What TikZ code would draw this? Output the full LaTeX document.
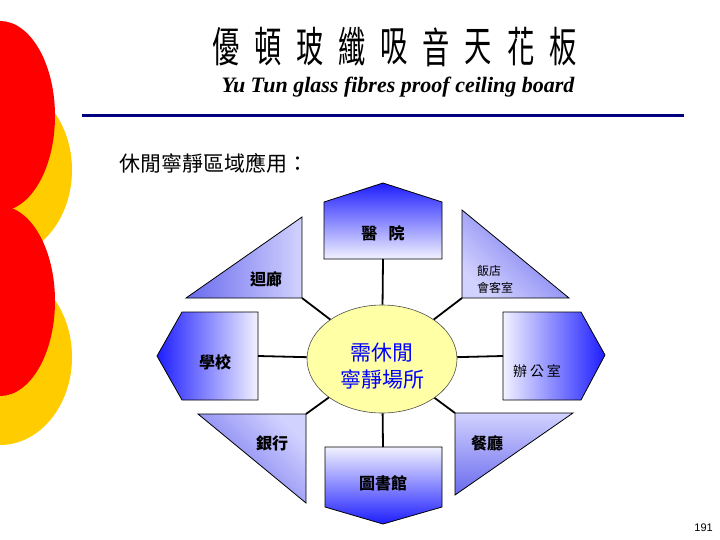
\documentclass[tikz,border=0pt]{standalone}
\usepackage{fontspec}
\setmainfont{Liberation Serif}
\newfontfamily\cjk{Noto Sans CJK TC}
\newfontfamily\numf{Liberation Sans}
\usetikzlibrary{shapes.geometric}
\definecolor{decored}{RGB}{255,0,0}
\definecolor{decoyellow}{RGB}{255,204,0}
\definecolor{navyline}{RGB}{0,0,128}
\definecolor{boxblue}{RGB}{30,30,255}
\definecolor{boxlight}{RGB}{242,242,255}
\definecolor{tridark}{RGB}{105,105,238}
\definecolor{trilight}{RGB}{210,210,255}
\definecolor{ellfill}{RGB}{255,255,165}
\definecolor{centertext}{RGB}{0,0,255}
\tikzset{
  shapeedge/.style={draw=black, line width=0.8pt},
  link/.style={draw=black, line width=1.8pt},
  lbl/.style={font=\cjk\bfseries\fontsize{16}{18}\selectfont, inner sep=0pt},
  lblsmall/.style={font=\cjk\fontsize{12}{17}\selectfont, inner sep=0pt},
  titlechar/.style={font=\cjk\fontsize{42}{44}\selectfont, xscale=0.65, inner sep=0pt},
  trishade/.style={shapeedge, top color=tridark, bottom color=trilight},
}
\begin{document}
\begin{tikzpicture}[x=1pt,y=-1pt]
\useasboundingbox (0,0) rectangle (720,540);
\fill[white] (0,0) rectangle (720,540);
% left decoration
\begin{scope}
\clip (0,0) rectangle (720,540);
\fill[decoyellow] (0,170) ellipse [x radius=72, y radius=88];
\fill[decoyellow] (0,357) ellipse [x radius=72, y radius=88];
\fill[decored] (0,116) ellipse [x radius=55, y radius=95];
\fill[decored] (0,301) ellipse [x radius=55, y radius=95];
\end{scope}
% title
\foreach \ch [count=\i from 0] in {優,頓,玻,纖,吸,音,天,花,板}
  \node[titlechar] (t\i) at (226+42.1*\i, 47) {\ch};
\node[font=\bfseries\itshape\fontsize{22}{24}\selectfont, inner sep=0pt] (sub) at (398,87) {Yu Tun glass fibres proof ceiling board};
\coordinate (lineL) at (82,116);
\coordinate (lineR) at (684,116);
\draw[navyline, line width=3pt] (lineL) -- (lineR);
\node[anchor=west, font=\cjk\fontsize{21}{23}\selectfont, inner sep=0pt] (sect) at (119,163) {休閒寧靜區域應用：};
% hub
\node[ellipse, draw=black!70, line width=0.6pt, fill=ellfill, minimum width=150pt, minimum height=108pt, inner sep=0pt] (hub) at (382,359) {};
\node[font=\cjk\fontsize{21}{27}\selectfont, text=centertext, align=center, inner sep=0pt] (hubtext) at (382,366) {需休閒\\寧靜場所};
% connection points
\coordinate (hospB) at (383,259);
\coordinate (libT) at (383,447);
\coordinate (schR) at (258,356);
\coordinate (offL) at (503,356);
\coordinate (corrC) at (302,298);
\coordinate (hotC) at (462,298);
\coordinate (bankC) at (306,414);
\coordinate (restC) at (455,413);
% boxes
\shade[shapeedge, top color=boxblue, bottom color=boxlight] (324,259) -- (324,202) -- (383,183) -- (442,202) -- (442,259) -- cycle;
\shade[shapeedge, top color=boxlight, bottom color=boxblue] (325,447) -- (442,447) -- (442,507) -- (383,524) -- (325,507) -- cycle;
\shade[shapeedge, left color=boxblue, right color=boxlight] (258,312) -- (182,312) -- (157,356) -- (182,400) -- (258,400) -- cycle;
\shade[shapeedge, left color=boxlight, right color=boxblue] (503,312) -- (581,312) -- (605,355) -- (581,400) -- (503,400) -- cycle;
% triangles
\shade[trishade, shading angle=90] (302,217) -- (302,298) -- (186,298) -- cycle;
\shade[trishade, shading angle=-45] (462,210) -- (462,298) -- (569,298) -- cycle;
\shade[trishade, shading angle=135] (198,414) -- (306,414) -- (306,503) -- cycle;
\shade[trishade, shading angle=180] (455,413) -- (573,413) -- (455,495) -- cycle;
% connectors
\draw[link] (hospB) -- (hub);
\draw[link] (libT) -- (hub);
\draw[link] (schR) -- (hub);
\draw[link] (offL) -- (hub);
\draw[link] (corrC) -- (hub);
\draw[link] (hotC) -- (hub);
\draw[link] (bankC) -- (hub);
\draw[link] (restC) -- (hub);
% labels
\node[lbl] (hosp) at (383,233) {醫\hspace{0.7em}院};
\node[lbl] (corr) at (266,279) {迴廊};
\node[lblsmall, anchor=west, align=left] (hotel) at (477,279.5) {飯店\\會客室};
\node[lbl] (school) at (215,362) {學校};
\node[lbl, font=\cjk\fontsize{14}{16}\selectfont] (office) at (537,371) {辦\hspace{3pt}公\hspace{3pt}室};
\node[lbl] (bank) at (272,443) {銀行};
\node[lbl] (rest) at (487,443) {餐廳};
\node[lbl] (lib) at (383,483) {圖書館};
\node[anchor=east, font=\numf\fontsize{11}{12}\selectfont, inner sep=0pt] (pg) at (713,528) {191};
\end{tikzpicture}
\end{document}
